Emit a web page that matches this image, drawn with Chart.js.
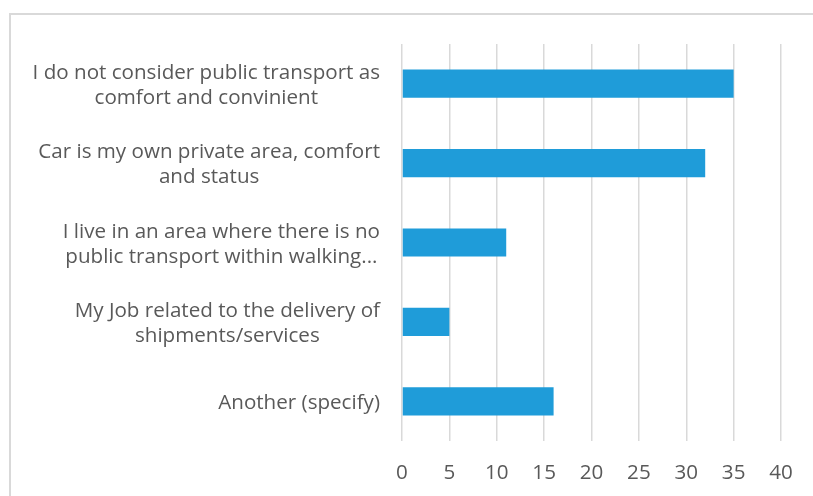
<!DOCTYPE html>
<html>
<head>
<meta charset="utf-8">
<script src="https://cdn.jsdelivr.net/npm/chart.js@4.4.1/dist/chart.umd.min.js"></script>
<style>
  html, body { margin: 0; padding: 0; background: #fff; overflow: hidden; }
  #wrap { position: relative; width: 813px; height: 496px; }
  #frame { position: absolute; left: 9px; top: 13px; width: 900px; height: 600px;
           border: 2px solid #d9d9d9; box-sizing: border-box; }
  canvas { position: absolute; left: 0; top: 0; }
</style>
</head>
<body>
<div id="wrap">
  <div id="frame"></div>
  <canvas id="myChart" width="813" height="496"></canvas>
</div>
<script>
// categories, one array of lines per label (as wrapped in the picture)
var categories = [
  ["I do not consider public transport as", "comfort and convinient"],
  ["Car is my own private area, comfort", "and status"],
  ["I live in an area where there is no", "public transport within walking..."],
  ["My Job related to the delivery of", "shipments/services"],
  ["Another (specify)"]
]
var values = [35, 32, 11, 5, 16]
var xMin = 0
var xMax = 40
var xStep = 5

var textColor = "#595959"
var fontFamily = "'Open Sans', sans-serif"
var fontSize = 20.6

// category labels: each label block right aligned, its lines centred on each other
var catLabels = {
  id: "catLabels",
  afterDraw(chart) {
    var ctx = chart.ctx
    var ys = chart.scales.y
    var right = 380
    ctx.save()
    ctx.font = fontSize + "px " + fontFamily
    ctx.fillStyle = textColor
    ctx.textAlign = "center"
    ctx.textBaseline = "middle"
    for (let i = 0; i < categories.length; i++) {
      let lines = categories[i]
      let w = 0
      for (let j = 0; j < lines.length; j++) {
        w = Math.max(w, ctx.measureText(lines[j]).width)
      }
      let cx = right - w / 2
      let cy = ys.getPixelForValue(i) + 2
      for (let j = 0; j < lines.length; j++) {
        ctx.fillText(lines[j], cx, cy + (j - (lines.length - 1) / 2) * 25)
      }
    }
    ctx.restore()
  }
}

const ctx = document.getElementById("myChart")
new Chart(ctx, {
  type: "bar",
  data: {
    labels: categories,
    datasets: [{
      data: values,
      backgroundColor: "#1f9cd9",
      borderWidth: 0,
      categoryPercentage: 1,
      barPercentage: 0.355
    }]
  },
  options: {
    indexAxis: "y",
    responsive: false,
    animation: false,
    layout: { padding: { top: 44, right: 32, left: 0, bottom: 0 } },
    plugins: { legend: { display: false }, tooltip: { enabled: false } },
    scales: {
      x: {
        min: xMin,
        max: xMax,
        ticks: {
          stepSize: xStep,
          color: textColor,
          font: { family: fontFamily, size: fontSize },
          padding: 20
        },
        grid: { color: "#d9d9d9", lineWidth: 1.5, drawTicks: false },
        border: { display: false },
        afterFit(scale) { scale.height = 55 }
      },
      y: {
        ticks: { display: false },
        grid: { display: false },
        border: { display: false },
        afterFit(scale) { scale.width = 402 }
      }
    }
  },
  plugins: [catLabels]
})
</script>
</body>
</html>
